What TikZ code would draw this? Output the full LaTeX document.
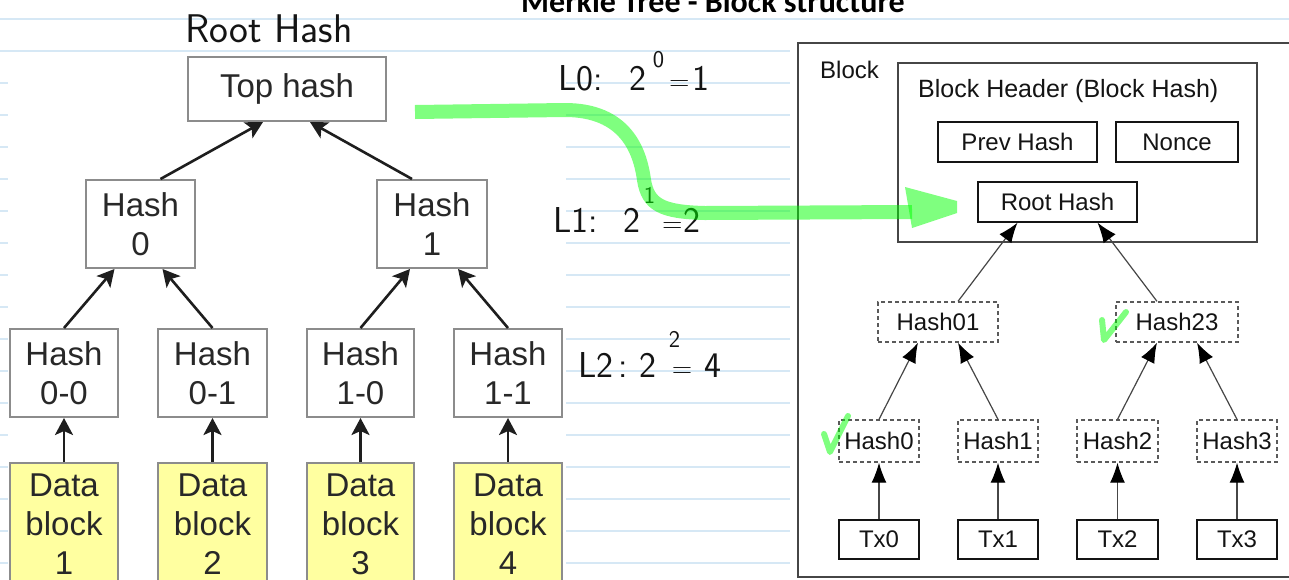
\documentclass[tikz,border=0pt]{standalone}
\usepackage{fontspec}
\setmainfont{Liberation Sans}
\newfontfamily\titlefont{Carlito}
\usetikzlibrary{arrows.meta,calc}

\definecolor{ruleblue}{RGB}{214,232,245}
\definecolor{wbox}{RGB}{140,140,140}
\definecolor{wtext}{RGB}{40,40,40}
\definecolor{wline}{RGB}{30,30,30}
\definecolor{wfill}{RGB}{255,255,160}
\definecolor{ink}{RGB}{20,20,20}
\definecolor{bline}{RGB}{70,70,70}
\definecolor{dline}{RGB}{90,90,90}
\definecolor{hl}{RGB}{0,255,0}

\tikzset{
  wnode/.style={draw=wbox, line width=2pt, fill=white, text=wtext, inner sep=0pt,
    align=center, font=\fontsize{33}{39}\selectfont},
  datanode/.style={wnode, fill=wfill},
  warrow/.style={draw=wline, line width=2.6pt,
    -{Stealth[length=17pt,width=18pt,inset=4pt]}},
  container/.style={draw=bline, line width=1.4pt, fill=white, inner sep=0pt},
  bnode/.style={draw=ink, line width=1.3pt, fill=white, text=ink, inner sep=0pt,
    font=\fontsize{24}{28}\selectfont},
  dnode/.style={bnode, draw=dline, dash pattern=on 4pt off 3pt},
  blabel/.style={text=ink, inner sep=0pt, font=\fontsize{24}{28}\selectfont},
  barrow/.style={draw=bline, line width=1.2pt,
    -{Latex[length=20pt,width=15pt,color=black]}},
  hand/.style={text=ink, inner sep=0pt, font=\sffamily\fontsize{36}{36}\selectfont},
  marker/.style={draw=hl, draw opacity=0.5, line width=14pt},
  tick/.style={draw=hl, draw opacity=0.5, line width=6pt, line join=round, line cap=round},
}

% raised exponent and narrow equals sign of the handwritten notes
\newcommand{\handsup}[2][22pt]{\raisebox{#1}{\fontsize{24}{24}\selectfont #2}}
\newcommand{\handeq}{{\fontsize{28}{28}\selectfont =}}

\begin{document}
\begin{tikzpicture}[x=1pt, y=-1pt]
\useasboundingbox (0,0) rectangle (1289,579);
\clip (0,0) rectangle (1289,579);
\fill[white] (0,0) rectangle (1289,579);

% ruled notebook paper
\foreach \yy in {19,51,...,563}
  \draw[ruleblue, line width=1.2pt] (0,\yy) -- (1289,\yy);

% pasted pictures
\fill[white] (8,58) rectangle (566,590);
\fill[white] (790,38) rectangle (1300,590);

% title
\node[anchor=base, inner sep=0pt, font=\titlefont\bfseries\fontsize{32}{32}\selectfont]
  (title) at (713,12) {Merkle Tree - Block structure};

% ---------- Merkle tree ----------
\node[wnode, minimum width=198pt, minimum height=64pt] (top) at (287,89) {Top hash};
\node[wnode, minimum width=109pt, minimum height=88pt] (h0) at (140.5,224) {Hash\\0};
\node[wnode, minimum width=110pt, minimum height=88pt] (h1) at (432,224) {Hash\\1};
\node[wnode, minimum width=108pt, minimum height=88pt] (h00) at (64,373) {Hash\\0-0};
\node[wnode, minimum width=109pt, minimum height=88pt] (h01) at (212.5,373) {Hash\\0-1};
\node[wnode, minimum width=107pt, minimum height=88pt] (h10) at (360.5,373) {Hash\\1-0};
\node[wnode, minimum width=108pt, minimum height=88pt] (h11) at (508,373) {Hash\\1-1};
\node[datanode, minimum width=108pt, minimum height=122pt] (d1) at (64,524) {Data\\block\\1};
\node[datanode, minimum width=109pt, minimum height=122pt] (d2) at (212.5,524) {Data\\block\\2};
\node[datanode, minimum width=107pt, minimum height=122pt] (d3) at (360.5,524) {Data\\block\\3};
\node[datanode, minimum width=108pt, minimum height=122pt] (d4) at (508,524) {Data\\block\\4};

\draw[warrow] ($(h0.north)+(20,0)$) -- ($(top.south)+(-24,0)$);
\draw[warrow] ($(h1.north)+(-20,0)$) -- ($(top.south)+(23,0)$);
\draw[warrow] (h00.north) -- ($(h0.south)+(-26,0)$);
\draw[warrow] (h01.north) -- ($(h0.south)+(22,0)$);
\draw[warrow] (h10.north) -- ($(h1.south)+(-22,0)$);
\draw[warrow] (h11.north) -- ($(h1.south)+(26,0)$);
\foreach \i/\j in {d1/h00,d2/h01,d3/h10,d4/h11}
  \draw[warrow] (\i.north) -- (\j.south);

% ---------- Block structure ----------
\node[container, minimum width=502pt, minimum height=534pt] (block) at (1049,310) {};
\node[blabel, anchor=base west] (blocklbl) at (820,78) {Block};
\node[container, minimum width=359pt, minimum height=179pt] (header) at (1077.5,152.5) {};
\node[blabel, anchor=base west, font=\fontsize{25}{28}\selectfont] (headerlbl) at (918,97) {Block Header (Block Hash)};
\node[bnode, minimum width=159pt, minimum height=40pt] (prev) at (1017.5,142) {Prev Hash};
\node[bnode, minimum width=122pt, minimum height=40pt] (nonce) at (1177,142) {Nonce};
\node[bnode, minimum width=159pt, minimum height=40pt] (root) at (1057.5,202) {Root Hash};

\node[dnode, minimum width=120pt, minimum height=40pt] (hh01) at (938,322) {Hash01};
\node[dnode, minimum width=122pt, minimum height=40pt] (hh23) at (1177,322) {Hash23};
\node[dnode, minimum width=80pt, minimum height=42pt] (hs0) at (879,441) {Hash0};
\node[dnode, minimum width=80pt, minimum height=42pt] (hs1) at (998,441) {Hash1};
\node[dnode, minimum width=81pt, minimum height=42pt] (hs2) at (1117.5,441) {Hash2};
\node[dnode, minimum width=80pt, minimum height=42pt] (hs3) at (1237,441) {Hash3};
\node[bnode, minimum width=80pt, minimum height=39pt] (tx0) at (879,539.5) {Tx0};
\node[bnode, minimum width=80pt, minimum height=39pt] (tx1) at (998,539.5) {Tx1};
\node[bnode, minimum width=81pt, minimum height=39pt] (tx2) at (1117.5,539.5) {Tx2};
\node[bnode, minimum width=80pt, minimum height=39pt] (tx3) at (1237,539.5) {Tx3};

\draw[barrow] ($(hh01.north)+(20,0)$) -- ($(root.south)+(-40,0)$);
\draw[barrow] ($(hh23.north)+(-20,0)$) -- ($(root.south)+(40,0)$);
\draw[barrow] (hs0.north) -- ($(hh01.south)+(-20,0)$);
\draw[barrow] (hs1.north) -- ($(hh01.south)+(20,0)$);
\draw[barrow] (hs2.north) -- ($(hh23.south)+(-20,0)$);
\draw[barrow] (hs3.north) -- ($(hh23.south)+(20,0)$);
\foreach \i/\j in {tx0/hs0,tx1/hs1,tx2/hs2,tx3/hs3}
  \draw[barrow] (\i.north) -- (\j.south);

% ---------- handwritten notes ----------
\node[hand, anchor=base west, font=\sffamily\fontsize{40}{40}\selectfont] (roothand) at (185,42) {Root Hash};
\node[hand, anchor=base west] (lvl0) at (558,90)
  {L0:\hspace{27pt}2\hspace{6pt}\handsup[23pt]{0}\hspace{5pt}\handeq\hspace{3pt}1};
\node[hand, anchor=base west] (lvl1) at (553,232)
  {L1:\hspace{26pt}2\hspace{3pt}\handsup[29pt]{1}\hspace{7pt}\handeq\hspace{1pt}2};
\node[hand, anchor=base west] (lvl2) at (578,377)
  {L2\hspace{5pt}:\hspace{12pt}2\hspace{12pt}\rlap{\handsup[30pt]{2}}\hspace{3pt}\handeq\hspace{12pt}4};

% highlighter stroke from the top hash to the root hash field
\coordinate (hlstart) at (415,112);
\coordinate (hlend) at (912,212);
\draw[marker] (hlstart) -- (565,110) .. controls (625,110) and (640,150) .. (644,180)
  .. controls (648,205) and (662,212) .. (705,213) -- (hlend);
\fill[hl, fill opacity=0.5] (905,187) -- (957,201) -- (957,213) -- (912,228) -- cycle;

% highlighter ticks
\draw[tick] (824,434) -- (830,452) -- (848,416);
\draw[tick] (1102,320) -- (1104,340) -- (1126,312);
\end{tikzpicture}
\end{document}
